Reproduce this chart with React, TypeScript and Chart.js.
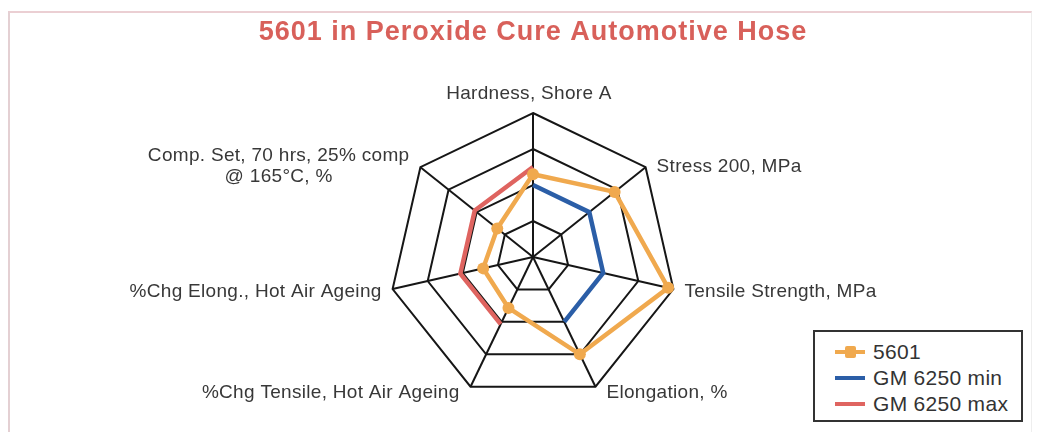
import React, { useEffect, useRef } from 'react';
import { Chart, registerables } from 'chart.js';

Chart.register(...registerables);

// ---- data ----
const categories: (string | string[])[] = [
  'Hardness, Shore A',
  'Stress 200, MPa',
  'Tensile Strength, MPa',
  'Elongation, %',
  '%Chg Tensile, Hot Air Ageing',
  '%Chg Elong., Hot Air Ageing',
  ['Comp. Set, 70 hrs, 25% comp', '@ 165°C, %'],
];
const values5601 = [2.3, 2.9, 3.85, 3.0, 1.57, 1.42, 1.27];
const valuesGmMin = [2, 2, 2, 2, null, null, null];
const valuesGmMax = [2.5, null, null, null, 2.07, 2.07, 2.07];
const seriesNames = ['5601', 'GM 6250 min', 'GM 6250 max'];
const seriesColors = ['#f0a94e', '#2b5ea7', '#df6460'];
const scaleMin = 0;
const scaleMax = 4;
const scaleStep = 1;
const chartTitle = '5601 in Peroxide Cure Automotive Hose';

const FONT = '"Liberation Sans", Arial, Helvetica, sans-serif';

const pointLabelPlugin = {
  id: 'customPointLabels',
  beforeDraw(chart: any) {
    chart.ctx.letterSpacing = '1px';
  },
  afterDraw(chart: any) {
    const ctx = chart.ctx;
    const s = chart.scales.r;
    ctx.save();
    ctx.letterSpacing = '0.3px';
    ctx.font = `19px ${FONT}`;
    ctx.fillStyle = '#383838';
    ctx.textBaseline = 'middle';
    ctx.textAlign = 'center';
    const lh = 21;
    (chart.data.labels as (string | string[])[]).forEach((lab, i) => {
      const v = s.getPointPosition(i, s.drawingArea);
      const dx = v.x - s.xCenter;
      const rel = (v.y - s.yCenter) / s.drawingArea;
      const lines = Array.isArray(lab) ? lab : [lab];
      if (Math.abs(dx) < 1) {
        lines.forEach((t, k) =>
          ctx.fillText(t, v.x - 4, v.y - 19 - (lines.length - 1 - k) * lh)
        );
      } else {
        const gap = 11;
        const maxW = Math.max(...lines.map((t) => ctx.measureText(t).width));
        const cy = v.y + 2 + 4 * rel;
        const top = cy - ((lines.length - 1) * lh) / 2;
        const cx = dx > 0 ? v.x + gap + maxW / 2 : v.x - gap - maxW / 2;
        lines.forEach((t, k) => ctx.fillText(t, cx, top + k * lh));
      }
    });
    ctx.restore();
    ctx.letterSpacing = '0px';
  },
};

export default function App() {
  const canvasRef = useRef<HTMLCanvasElement | null>(null);

  useEffect(() => {
    if (!canvasRef.current) return;
    const allSeries = [values5601, valuesGmMin, valuesGmMax];
    const chart = new Chart(canvasRef.current, {
      type: 'radar',
      data: {
        labels: categories as any,
        datasets: allSeries.map((vals, i) => ({
          label: seriesNames[i],
          data: vals as any,
          borderColor: seriesColors[i],
          backgroundColor: seriesColors[i],
          borderWidth: 4.5,
          borderJoinStyle: 'miter' as const,
          fill: false,
          spanGaps: false,
          pointRadius: i === 0 ? 6 : 0,
          pointBackgroundColor: seriesColors[i],
          pointBorderColor: seriesColors[i],
          pointBorderWidth: 0,
          pointStyle: 'circle' as const,
        })),
      },
      options: {
        responsive: false,
        animation: false,
        devicePixelRatio: 1,
        events: [],
        layout: { padding: { left: 24, right: 0, top: 0, bottom: 31 } },
        plugins: {
          legend: { display: false },
          tooltip: { enabled: false },
          title: {
            display: true,
            text: chartTitle,
            color: '#d8605a',
            font: { family: FONT, size: 27, weight: 'bold', lineHeight: 1.2 },
            padding: { top: 8.8, bottom: 63.8 },
          },
        },
        scales: {
          r: {
            min: scaleMin,
            max: scaleMax,
            beginAtZero: true,
            ticks: { display: false, stepSize: scaleStep },
            grid: { color: '#161616', lineWidth: 2 },
            angleLines: { color: '#161616', lineWidth: 2 },
            pointLabels: { display: false },
          },
        },
      },
      plugins: [pointLabelPlugin],
    });
    return () => chart.destroy();
  }, []);

  return (
    <div style={{ position: 'relative', width: 1026, height: 424, overflow: 'hidden' }}>
      <div
        style={{
          position: 'absolute',
          left: 0,
          top: 3,
          width: 1024,
          height: 430,
          boxSizing: 'border-box',
          borderTop: '2px solid #ebcfd3',
          borderLeft: '2px solid #e4d0d3',
          borderRight: '1px solid #eeeeee',
        }}
      />
      <canvas
        ref={canvasRef}
        width={1026}
        height={424}
        style={{ position: 'absolute', left: 0, top: 0, width: 1026, height: 424 }}
      />
      <div
        style={{
          position: 'absolute',
          left: 805,
          top: 322,
          width: 210,
          height: 92,
          boxSizing: 'border-box',
          border: '2px solid #333',
          background: '#fff',
          paddingTop: 7,
          paddingLeft: 20,
          fontFamily: FONT,
          fontSize: 21,
          letterSpacing: '0.3px',
          color: '#333',
        }}
      >
        {seriesNames.map((name, i) => (
          <div
            key={name}
            style={{ height: 26, display: 'flex', alignItems: 'center', whiteSpace: 'nowrap' }}
          >
            <div
              style={{
                position: 'relative',
                width: 30,
                height: 4,
                background: seriesColors[i],
                marginRight: 8,
                flex: 'none',
              }}
            >
              {i === 0 && (
                <div
                  style={{
                    position: 'absolute',
                    left: 10,
                    top: -4,
                    width: 11,
                    height: 12,
                    borderRadius: 2,
                    background: seriesColors[i],
                  }}
                />
              )}
            </div>
            <span>{name}</span>
          </div>
        ))}
      </div>
    </div>
  );
}
